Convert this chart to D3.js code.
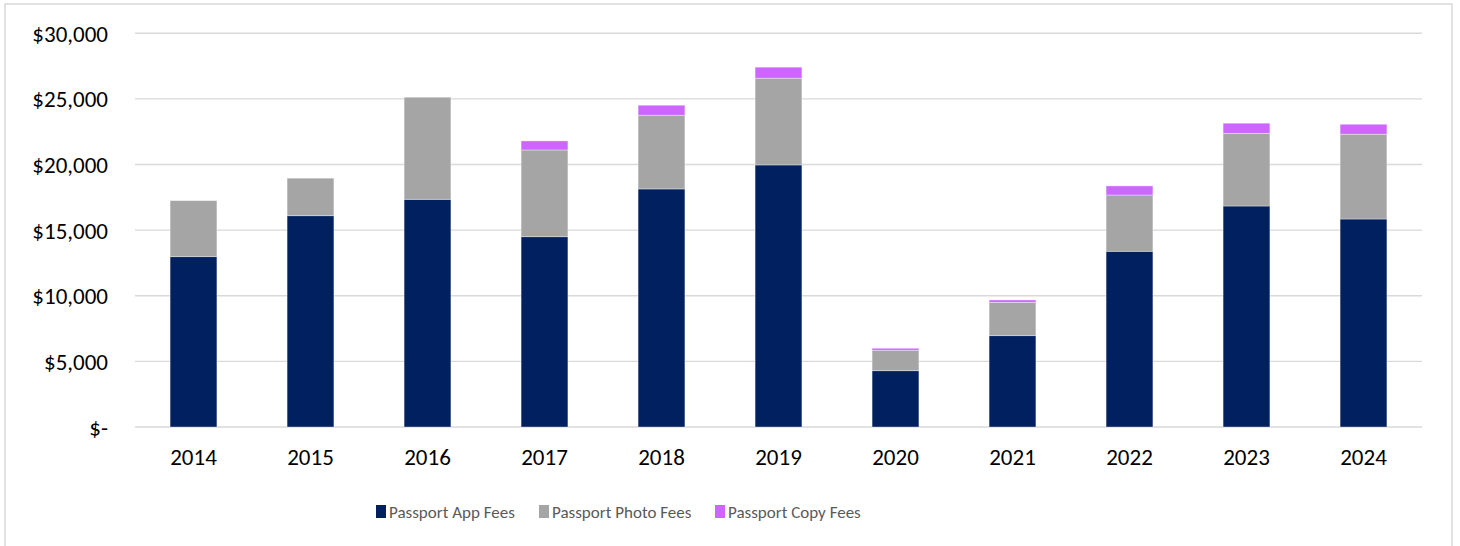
<!DOCTYPE html>
<html>
<head>
<meta charset="utf-8">
<script src="https://cdn.jsdelivr.net/npm/d3@7"></script>
<style>
  body { margin: 0; background: #fff; }
  svg text { font-family: Carlito, Calibri, Lato, sans-serif; }
</style>
</head>
<body>
<svg id="chart" width="1460" height="546"></svg>
<script>
const years = ["2014", "2015", "2016", "2017", "2018", "2019", "2020", "2021", "2022", "2023", "2024"];
const appFees = [12980, 16100, 17350, 14500, 18140, 19970, 4290, 6960, 13390, 16840, 15850];
const photoFees = [4270, 2860, 7780, 6610, 5620, 6610, 1560, 2540, 4290, 5540, 6460];
const copyFees = [0, 0, 0, 690, 760, 840, 150, 180, 690, 770, 760];
const seriesNames = ["Passport App Fees", "Passport Photo Fees", "Passport Copy Fees"];
const colors = ["#002060", "#a5a5a5", "#cc66ff"];
const yTicks = [0, 5000, 10000, 15000, 20000, 25000, 30000];

const svg = d3.select("#chart");
const margin = { top: 33.3, right: 38, bottom: 119, left: 135 };
const W = 1460, H = 546;

// outer frame
svg.append("rect")
  .attr("x", 5).attr("y", 4)
  .attr("width", 1447).attr("height", 560)
  .attr("fill", "none")
  .attr("stroke", "#d9d9d9")
  .attr("stroke-width", 1.5);

const table = years.map((y, i) => ({ year: y, app: appFees[i], photo: photoFees[i], copy: copyFees[i] }));
const stack = d3.stack().keys(["app", "photo", "copy"])(table);

const x = d3.scaleBand()
  .domain(years)
  .range([margin.left, W - margin.right])
  .paddingInner(0.6)
  .paddingOuter(0.3);

const y = d3.scaleLinear()
  .domain([0, 30000])
  .range([H - margin.bottom, margin.top]);

// gridlines
svg.append("g")
  .selectAll("line")
  .data(yTicks)
  .join("line")
  .attr("x1", margin.left)
  .attr("x2", W - margin.right)
  .attr("y1", d => y(d))
  .attr("y2", d => y(d))
  .attr("stroke", "#d9d9d9")
  .attr("stroke-width", 1.4);

// y labels
const fmt = d => d === 0 ? "$-" : "$" + d3.format(",")(d);
svg.append("g")
  .attr("transform", `translate(108,0)`)
  .call(d3.axisLeft(y).tickValues(yTicks).tickFormat(fmt).tickSize(0).tickPadding(0))
  .call(g => g.select(".domain").remove())
  .selectAll("text")
  .attr("fill", "#000")
  .style("font-size", "23px")
  .attr("dy", "0.35em");

// bars
svg.append("g")
  .selectAll("g")
  .data(stack)
  .join("g")
  .attr("fill", (d, i) => colors[i])
  .selectAll("rect")
  .data(d => d)
  .join("rect")
  .attr("x", d => x(d.data.year))
  .attr("y", d => y(d[1]))
  .attr("width", x.bandwidth())
  .attr("height", d => Math.max(0, y(d[0]) - y(d[1])))
  .attr("stroke", "#ffffff")
  .attr("stroke-opacity", d => d[1] > d[0] ? 0.45 : 0)
  .attr("stroke-width", 0.8);

// x labels
svg.append("g")
  .attr("transform", `translate(0,${H - margin.bottom})`)
  .call(d3.axisBottom(x).tickSize(0).tickPadding(22))
  .call(g => g.select(".domain").remove())
  .selectAll("text")
  .attr("fill", "#000")
  .style("font-size", "23px");

// legend
const legendX = [376, 539, 715];
const legend = svg.append("g")
  .selectAll("g")
  .data(seriesNames)
  .join("g")
  .attr("transform", (d, i) => `translate(${legendX[i]},512)`);

legend.append("rect")
  .attr("x", 0).attr("y", -7)
  .attr("width", 10).attr("height", 13)
  .attr("fill", (d, i) => colors[i]);

legend.append("text")
  .attr("x", 13)
  .attr("dy", "0.35em")
  .attr("fill", "#595959")
  .style("font-size", "17px")
  .text(d => d);
</script>
</body>
</html>
